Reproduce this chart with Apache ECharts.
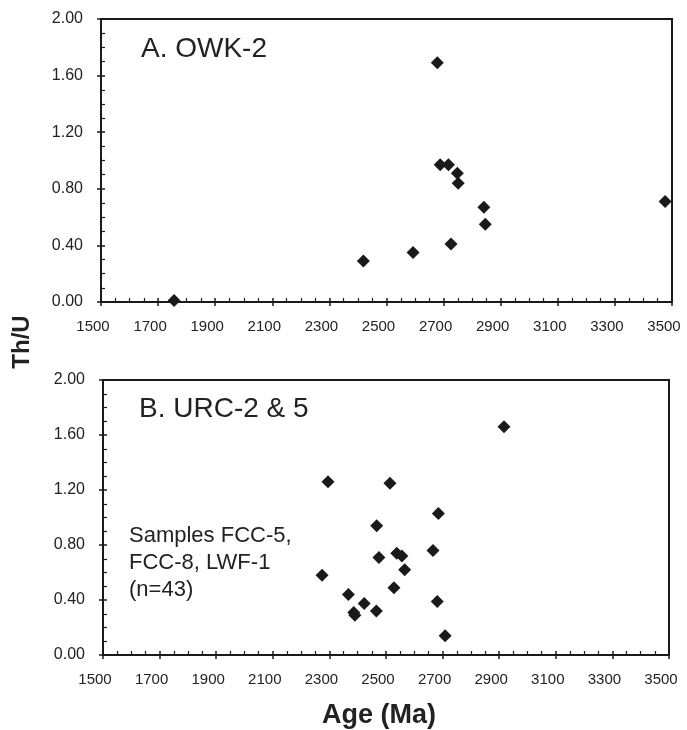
<!DOCTYPE html>
<html>
<head>
<meta charset="utf-8">
<script src="https://cdn.jsdelivr.net/npm/echarts@6/dist/echarts.min.js"></script>
<style>html,body{margin:0;padding:0;background:#fff}#c{width:687px;height:730px}</style>
</head>
<body>
<div id="c"></div>
<script>
// Panel A: OWK-2
var topAges = [1756, 2419, 2593, 2678, 2688, 2717, 2726, 2748, 2751, 2841, 2846, 3476];
var topThU  = [0.01, 0.29, 0.35, 1.69, 0.97, 0.97, 0.41, 0.91, 0.84, 0.67, 0.55, 0.71];
// Panel B: URC-2 & 5
var botAges = [2274, 2295, 2367, 2386, 2390, 2423, 2466, 2467, 2475, 2514, 2528, 2538, 2556, 2566, 2666, 2681, 2685, 2709, 2917];
var botThU  = [0.58, 1.26, 0.44, 0.31, 0.29, 0.375, 0.32, 0.94, 0.71, 1.25, 0.49, 0.74, 0.72, 0.62, 0.76, 0.39, 1.03, 0.14, 1.66];
var xTicks = {min: 1500, max: 3500, interval: 200};
var yTicks = {min: 0, max: 2, interval: 0.4};

var FONT = 'Liberation Sans, Arial, sans-serif';
var INK = '#1a1a1a';

function pairs(xs, ys) { return xs.map(function (x, i) { return [x, ys[i]]; }); }

function xAxes(g, withName) {
  var main = {
    gridIndex: g, type: 'value', position: 'bottom', min: xTicks.min, max: xTicks.max, interval: xTicks.interval,
    axisLine: {lineStyle: {color: INK, width: 2}},
    axisTick: {show: true, inside: false, length: 4, lineStyle: {color: INK, width: 1.5}},
    minorTick: {show: false},
    splitLine: {show: false},
    axisLabel: {fontSize: 15, color: '#222', fontFamily: FONT, margin: 17, padding: [0, 16, 0, 0],
      formatter: function (v) { return String(v); }}
  };
  if (withName) {
    main.name = 'Age (Ma)';
    main.nameLocation = 'middle';
    main.nameGap = 47;
    main.nameTextStyle = {fontSize: 27, fontWeight: 'bold', color: '#222', fontFamily: FONT, padding: [0, 14, 0, 0]};
  }
  var over = {
    gridIndex: g, type: 'value', position: 'bottom', min: xTicks.min, max: xTicks.max, interval: xTicks.interval,
    axisLine: {show: false},
    axisTick: {show: true, inside: true, length: 4, lineStyle: {color: INK, width: 1.5}},
    minorTick: {show: true, splitNumber: 4, length: 4, lineStyle: {color: INK, width: 1.2}},
    splitLine: {show: false},
    axisLabel: {show: false}
  };
  return [main, over];
}
function yAxes(g) {
  var main = {
    gridIndex: g, type: 'value', position: 'left', min: yTicks.min, max: yTicks.max, interval: yTicks.interval,
    axisLine: {show: true, lineStyle: {color: INK, width: 2}},
    axisTick: {show: true, inside: false, length: 4, lineStyle: {color: INK, width: 1.5}},
    minorTick: {show: false},
    splitLine: {show: false},
    axisLabel: {fontSize: 16, color: '#222', fontFamily: FONT, margin: 18,
      formatter: function (v) { return v.toFixed(2); }}
  };
  var over = {
    gridIndex: g, type: 'value', position: 'left', min: yTicks.min, max: yTicks.max, interval: yTicks.interval,
    axisLine: {show: false},
    axisTick: {show: true, inside: true, length: 4, lineStyle: {color: INK, width: 1.5}},
    minorTick: {show: true, splitNumber: 4, length: 4, lineStyle: {color: INK, width: 1.2}},
    splitLine: {show: false},
    axisLabel: {show: false}
  };
  return [main, over];
}

var chart = echarts.init(document.getElementById('c'), null, {renderer: 'canvas'});
chart.setOption({
  animation: false,
  backgroundColor: '#fff',
  grid: [
    {left: 101, top: 19, width: 571, height: 283, show: true, borderColor: INK, borderWidth: 2, backgroundColor: 'transparent'},
    {left: 103, top: 380, width: 566, height: 279, show: true, borderColor: INK, borderWidth: 2, backgroundColor: 'transparent'}
  ],
  xAxis: xAxes(0, false).concat(xAxes(1, true)),
  yAxis: yAxes(0).concat(yAxes(1)),
  series: [
    {type: 'scatter', xAxisIndex: 0, yAxisIndex: 0, symbol: 'diamond', symbolSize: [13, 13],
     itemStyle: {color: INK, opacity: 1}, data: pairs(topAges, topThU)},
    {type: 'scatter', xAxisIndex: 2, yAxisIndex: 2, symbol: 'diamond', symbolSize: [13, 13],
     itemStyle: {color: INK, opacity: 1}, data: pairs(botAges, botThU)}
  ],
  graphic: [
    {type: 'text', left: 141, top: 35, style: {text: 'A. OWK-2', font: '28px ' + FONT, fill: '#222'}},
    {type: 'text', left: 139, top: 395, style: {text: 'B. URC-2 & 5', font: '28px ' + FONT, fill: '#222'}},
    {type: 'text', left: 129, top: 522, style: {text: 'Samples FCC-5,\nFCC-8, LWF-1\n(n=43)', font: '22px ' + FONT, fill: '#222', lineHeight: 27}},
    {type: 'text', x: 22, y: 342, rotation: Math.PI / 2,
     style: {text: 'Th/U', font: 'bold 24px ' + FONT, fill: '#222', align: 'center', verticalAlign: 'middle'}}
  ]
});
</script>
</body>
</html>
